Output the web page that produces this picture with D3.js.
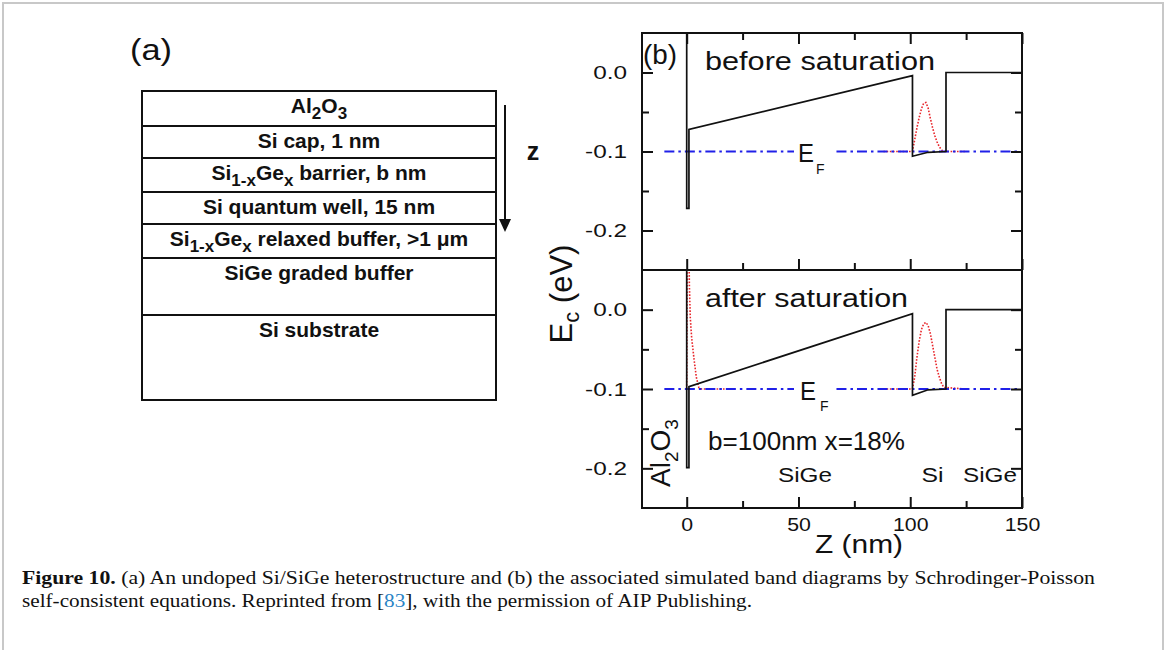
<!DOCTYPE html>
<html><head><meta charset="utf-8">
<script src="https://cdn.jsdelivr.net/npm/d3@7"></script>
<style>
html,body{margin:0;padding:0;background:#fff;}
svg{display:block;font-family:"Liberation Sans",Arial,sans-serif;fill:#111;}
</style></head><body>
<svg id="fig" width="1167" height="650"></svg>
<script>
// ---------------- DATA ----------------
// (a) layer stack, top to bottom; segments: [text, isSubscript]
const layerLabels = [
  [["Al",0],["2",1],["O",0],["3",1]],
  [["Si cap, 1 nm",0]],
  [["Si",0],["1-x",1],["Ge",0],["x",1],[" barrier, b nm",0]],
  [["Si quantum well, 15 nm",0]],
  [["Si",0],["1-x",1],["Ge",0],["x",1],[" relaxed buffer, >1 \u03bcm",0]],
  [["SiGe graded buffer",0]],
  [["Si substrate",0]]
];
// (b) axes
const zDomain = [-20, 150];
const ecDomain = [-0.25, 0.05];
const zMajorTicks = [0, 50, 100, 150];
const zMinorTicks = [25, 75, 125];
const zTickLabels = ["0", "50", "100", "150"];
const ecMajorTicks = [0.0, -0.1, -0.2];
const ecMinorTicks = [-0.05, -0.15];
const ecTickLabels = ["0.0", "-0.1", "-0.2"];
// conduction band edge, before saturation
const zBand = [0, 0, 1, 1, 101, 101, 108, 116, 116, 150];
const ecBefore = [0.3, -0.172, -0.172, -0.072, -0.004, -0.106, -0.101, -0.1, 0.0, 0.0];
// conduction band edge, after saturation
const ecAfter = [0.3, -0.199, -0.199, -0.097, -0.005, -0.108, -0.101, -0.1, 0.0, 0.0];
// wavefunction |psi|^2 (offset at E_F), before saturation
const zPsiBefore = [[88, 101, 102, 103, 104, 105, 106, 107, 108, 109, 110, 111, 112, 113, 114, 115, 125]];
const psiBefore = [[-0.1, -0.1, -0.085, -0.07, -0.057, -0.046, -0.039, -0.038, -0.045, -0.058, -0.07, -0.08, -0.088, -0.094, -0.098, -0.1, -0.1]];
// wavefunction, after saturation (interface peak, well peak)
const zPsiAfter = [
  [0, 0.3, 0.9, 1.2, 1.6, 2.2, 3.3, 4.3, 5.4, 6.5, 20],
  [88, 101, 102, 103, 104, 105, 106, 107, 108, 109, 110, 111, 112, 113, 114, 115, 125]
];
const psiAfter = [
  [-0.1, 0.1, 0.1, 0.03, -0.01, -0.035, -0.063, -0.085, -0.098, -0.1, -0.1],
  [-0.1, -0.1, -0.085, -0.06, -0.04, -0.025, -0.018, -0.016, -0.02, -0.03, -0.045, -0.06, -0.075, -0.085, -0.093, -0.098, -0.1, -0.1]
];
// Fermi level segments (gap for the label)
const efSegments = [[-10, 48], [67, 148]];
const efLevel = -0.1;

// ---------------- LAYOUT ----------------
const svg = d3.select("#fig");
const X0 = 642, X1 = 1022, Y0 = 33, YM = 270, Y1 = 508;
const layerHeights = [35, 32, 34, 32, 34, 57, 85];

function stretch(sel, k) {
  sel.each(function () {
    const L = this.getComputedTextLength();
    d3.select(this).attr("textLength", L * k).attr("lengthAdjust", "spacingAndGlyphs");
  });
}
function fitW(sel, w) { sel.attr("textLength", w).attr("lengthAdjust", "spacingAndGlyphs"); }
function rich(t, segs, subSize, shift) {
  let cur = 0;
  segs.forEach(([s, sub]) => {
    const ts = t.append("tspan").text(s);
    const want = sub ? shift : 0;
    if (want !== cur) { ts.attr("dy", want - cur); cur = want; }
    if (sub) ts.attr("font-size", subSize);
  });
  return t;
}

// page frame
svg.append("path").attr("d", "M3,650 V3 H1163 V650")
  .attr("fill", "none").attr("stroke", "#c8c8c8").attr("stroke-width", 2);

// ---------------- PANEL (a) ----------------
const ga = svg.append("g");
ga.append("text").attr("x", 130).attr("y", 60).attr("font-size", 29).text("(a)")
  .call(fitW, 42);
const boxL = 142, boxR = 496;
let yy = 91;
layerLabels.forEach((segs, i) => {
  const h = layerHeights[i];
  ga.append("rect").attr("x", boxL).attr("y", yy).attr("width", boxR - boxL).attr("height", h)
    .attr("fill", "none").attr("stroke", "#111").attr("stroke-width", 2);
  const t = ga.append("text").attr("x", (boxL + boxR) / 2).attr("y", yy + 22)
    .attr("text-anchor", "middle").attr("font-size", 21).attr("font-weight", "bold");
  rich(t, segs, 17, 6);
  yy += h;
});
// arrow
ga.append("line").attr("x1", 505).attr("x2", 505).attr("y1", 105).attr("y2", 222)
  .attr("stroke", "#111").attr("stroke-width", 2);
ga.append("path").attr("d", "M499,219 L511,219 L505,232 Z").attr("fill", "#111");
ga.append("text").attr("x", 533).attr("y", 160).attr("text-anchor", "middle")
  .attr("font-size", 25).attr("font-weight", "bold").text("z");

// ---------------- PANEL (b) ----------------
const x = d3.scaleLinear().domain(zDomain).range([X0, X1]);
const yU = d3.scaleLinear().domain(ecDomain).range([YM, Y0]);
const yL = d3.scaleLinear().domain(ecDomain).range([Y1, YM]);

const defs = svg.append("defs");
defs.append("clipPath").attr("id", "clipU").append("rect")
  .attr("x", X0).attr("y", Y0).attr("width", X1 - X0).attr("height", YM - Y0);
defs.append("clipPath").attr("id", "clipL").append("rect")
  .attr("x", X0).attr("y", YM).attr("width", X1 - X0).attr("height", Y1 - YM);

function styleAxis(g) {
  g.select(".domain").remove();
  g.selectAll(".tick line").attr("stroke", "#111").attr("stroke-width", 2);
  g.selectAll(".tick text").attr("fill", "#111").attr("font-family", '"Liberation Sans",Arial,sans-serif');
}

function drawPanel(y, clipId, band, zPsi, psi, isLower) {
  const g = svg.append("g");
  const cg = g.append("g").attr("clip-path", `url(#${clipId})`);
  const line = d3.line().x(d => x(d[0])).y(d => y(d[1]));
  zPsi.forEach((zs, k) => {
    cg.append("path").datum(zs.map((z, i) => [z, psi[k][i]])).attr("d", line)
      .attr("fill", "none").attr("stroke", "#e8262b").attr("stroke-width", 1.6)
      .attr("stroke-dasharray", "1.6,1.6");
  });
  efSegments.forEach(s => {
    cg.append("path").datum([[s[0], efLevel], [s[1], efLevel]]).attr("d", line)
      .attr("fill", "none").attr("stroke", "#2020e8").attr("stroke-width", 2)
      .attr("stroke-dasharray", "10,4,2.5,4");
  });
  cg.append("path").datum(zBand.map((z, i) => [z, band[i]])).attr("d", line)
    .attr("fill", "none").attr("stroke", "#111").attr("stroke-width", 1.7);

  const left = g.append("g").attr("transform", `translate(${X0},0)`)
    .call(d3.axisLeft(y).tickValues(ecMajorTicks).tickSize(-11).tickPadding(15)
      .tickFormat((d, i) => ecTickLabels[i])).call(styleAxis);
  left.selectAll("text").attr("font-size", 19).call(stretch, 1.28);
  g.append("g").attr("transform", `translate(${X0},0)`)
    .call(d3.axisLeft(y).tickValues(ecMinorTicks).tickSize(-7).tickFormat("")).call(styleAxis);
  g.append("g").attr("transform", `translate(${X1},0)`)
    .call(d3.axisRight(y).tickValues(ecMajorTicks).tickSize(-11).tickFormat("")).call(styleAxis);
  g.append("g").attr("transform", `translate(${X1},0)`)
    .call(d3.axisRight(y).tickValues(ecMinorTicks).tickSize(-7).tickFormat("")).call(styleAxis);
  const yb = y.range()[0], yt = y.range()[1];
  const bot = g.append("g").attr("transform", `translate(0,${yb})`)
    .call(d3.axisBottom(x).tickValues(zMajorTicks).tickSize(-11).tickPadding(10)
      .tickFormat((d, i) => isLower ? zTickLabels[i] : "")).call(styleAxis);
  bot.selectAll("text").attr("font-size", 19).call(stretch, 1.12);
  g.append("g").attr("transform", `translate(0,${yb})`)
    .call(d3.axisBottom(x).tickValues(zMinorTicks).tickSize(-7).tickFormat("")).call(styleAxis);
  if (!isLower) {
    g.append("g").attr("transform", `translate(0,${yt})`)
      .call(d3.axisTop(x).tickValues(zMajorTicks).tickSize(-11).tickFormat("")).call(styleAxis);
    g.append("g").attr("transform", `translate(0,${yt})`)
      .call(d3.axisTop(x).tickValues(zMinorTicks).tickSize(-7).tickFormat("")).call(styleAxis);
  }
  g.append("rect").attr("x", X0).attr("y", yt).attr("width", X1 - X0).attr("height", yb - yt)
    .attr("fill", "none").attr("stroke", "#111").attr("stroke-width", 2);
  return g;
}

drawPanel(yU, "clipU", ecBefore, zPsiBefore, psiBefore, false);
drawPanel(yL, "clipL", ecAfter, zPsiAfter, psiAfter, true);

// texts panel (b)
svg.append("text").attr("x", 643).attr("y", 64).attr("font-size", 27).text("(b)").call(fitW, 34);
svg.append("text").attr("x", 705).attr("y", 70).attr("font-size", 25.5).text("before saturation").call(fitW, 230);
svg.append("text").attr("x", 705).attr("y", 306.5).attr("font-size", 26).text("after saturation").call(fitW, 203);
svg.append("text").attr("x", 708).attr("y", 450).attr("font-size", 25.5).text("b=100nm x=18%").call(fitW, 197);
svg.append("text").attr("x", 778).attr("y", 481.5).attr("font-size", 20).text("SiGe").call(fitW, 54);
svg.append("text").attr("x", 921.5).attr("y", 481.5).attr("font-size", 20).text("Si").call(fitW, 22);
svg.append("text").attr("x", 963).attr("y", 481.5).attr("font-size", 20).text("SiGe").call(fitW, 54);
// E_F labels
[[798, 162, 816, 174], [800, 400, 820, 411]].forEach(p => {
  svg.append("text").attr("x", p[0]).attr("y", p[1]).attr("font-size", 25).text("E").call(fitW, 16);
  svg.append("text").attr("x", p[2]).attr("y", p[3]).attr("font-size", 14).text("F");
});
// Al2O3 rotated
rich(svg.append("text").attr("transform", "translate(670,487) rotate(-90)").attr("font-size", 28),
  [["Al", 0], ["2", 1], ["O", 0], ["3", 1]], 19, 8);
// axis titles
rich(svg.append("text").attr("transform", "translate(572,294) rotate(-90)")
  .attr("text-anchor", "middle").attr("font-size", 31),
  [["E", 0], ["c", 1], [" (eV)", 0]], 22, 7);
svg.append("text").attr("x", 859).attr("y", 553).attr("text-anchor", "middle")
  .attr("font-size", 25.5).text("Z (nm)").call(fitW, 88);

// ---------------- CAPTION ----------------
const serif = '"Liberation Serif","Times New Roman",serif';
const cap1 = svg.append("text").attr("x", 22).attr("y", 584)
  .style("font-family", serif).attr("font-size", 19);
cap1.append("tspan").attr("font-weight", "bold").text("Figure 10.");
cap1.append("tspan").text(" (a) An undoped Si/SiGe heterostructure and (b) the associated simulated band diagrams by Schrodinger-Poisson");
fitW(cap1, 1073);
const cap2 = svg.append("text").attr("x", 22).attr("y", 607)
  .style("font-family", serif).attr("font-size", 19);
cap2.append("tspan").text("self-consistent equations. Reprinted from [");
cap2.append("tspan").attr("fill", "#2a84c6").text("83");
cap2.append("tspan").text("], with the permission of AIP Publishing.");
fitW(cap2, 730);
</script>
</body></html>
